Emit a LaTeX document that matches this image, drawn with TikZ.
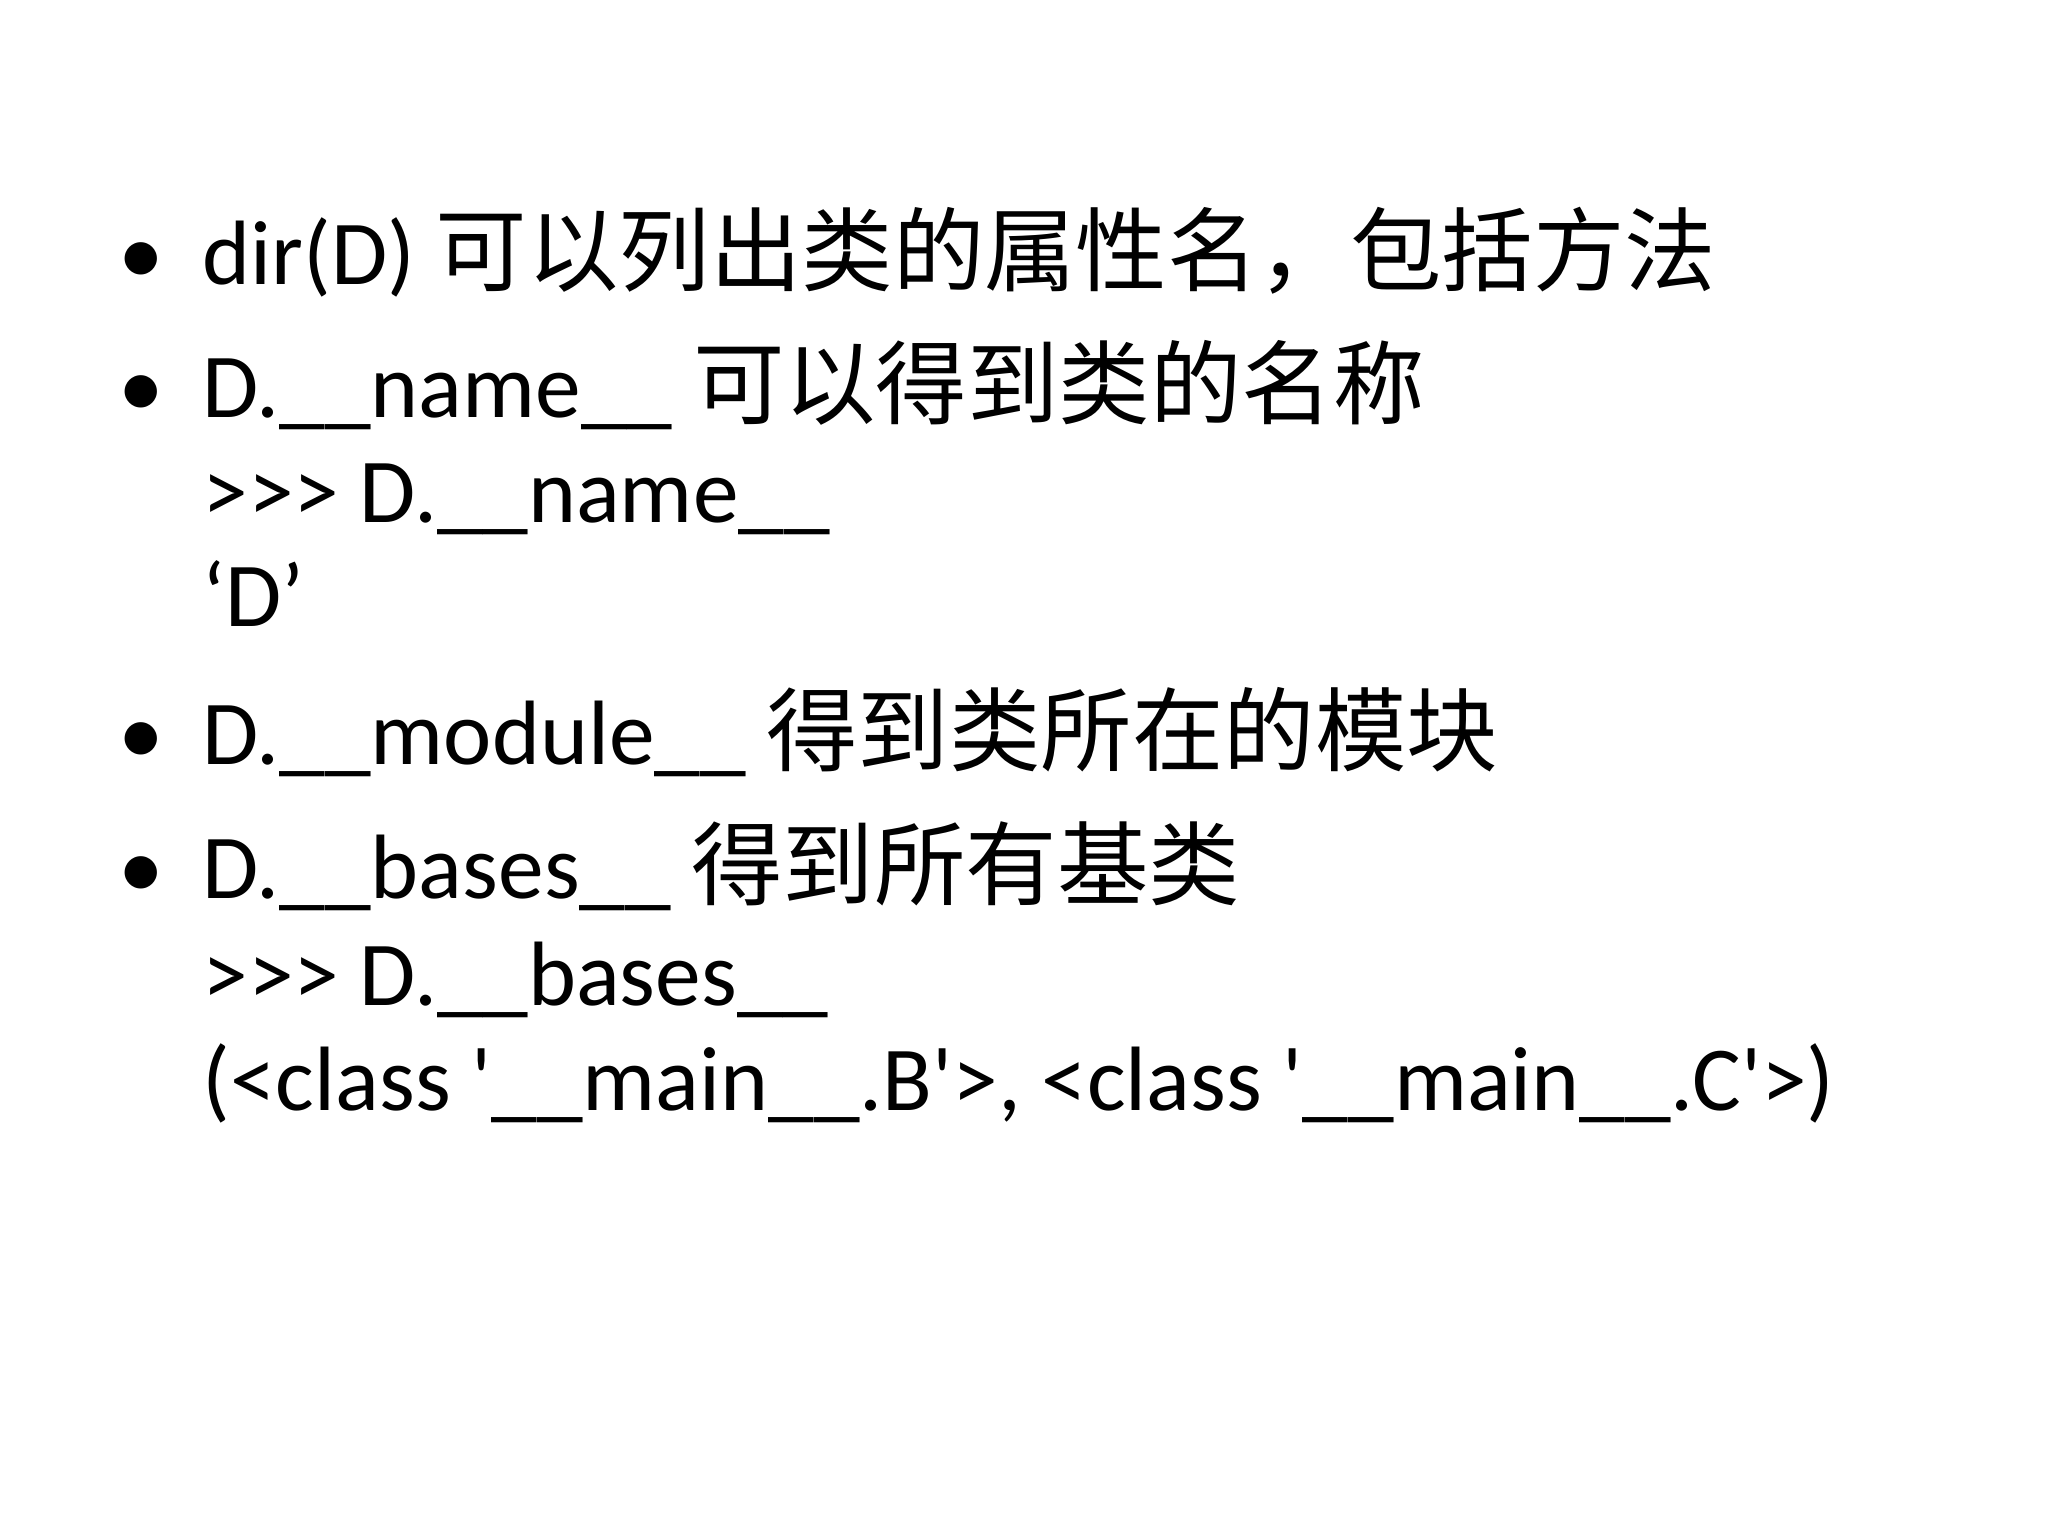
\documentclass[tikz,border=0pt]{standalone}
\usepackage{fontspec}
\usepackage{textcomp}
\setmainfont{Carlito}
\newfontfamily\cjk{Noto Sans CJK SC}
\begin{document}
\begin{tikzpicture}[x=1pt,y=1pt,
  txt/.style={anchor=base west,inner sep=0pt,font=\fontsize{70}{80}\selectfont},
  bul/.style={anchor=base,inner sep=0pt,font=\fontsize{70}{80}\selectfont}]
\useasboundingbox[fill=white] (0,0) rectangle (1568,1176);
\node[bul] (b1) at (108,1176-218) {•};
\node[txt] (t1) at (155,1176-218) {dir(D) {\cjk 可以列出类的属性名，包括方法}};
\node[bul] (b2) at (108,1176-320) {•};
\node[txt] (t2) at (155,1176-320) {D.\_\_name\_\_ {\cjk 可以得到类的名称}};
\node[txt] (t3) at (155,1176-400) {>{}>{}> D.\_\_name\_\_};
\node[txt] (t4) at (155,1176-480) {‘D’};
\node[bul] (b5) at (108,1176-585) {•};
\node[txt] (t5) at (155,1176-585) {D.\_\_module\_\_ {\cjk 得到类所在的模块}};
\node[bul] (b6) at (108,1176-688) {•};
\node[txt] (t6) at (155,1176-688) {D.\_\_bases\_\_ {\cjk 得到所有基类}};
\node[txt] (t7) at (155,1176-770) {>{}>{}> D.\_\_bases\_\_};
\node[txt] (t8) at (155,1176-850) {(<class \textquotesingle\_\_main\_\_.B\textquotesingle>, <class \textquotesingle\_\_main\_\_.C\textquotesingle>)};
\end{tikzpicture}
\end{document}
